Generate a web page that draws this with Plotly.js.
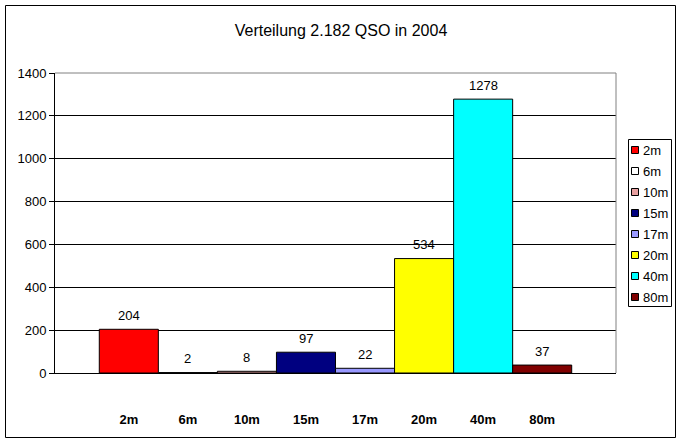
<!DOCTYPE html>
<html>
<head>
<meta charset="utf-8">
<script src="https://cdn.plot.ly/plotly-3.0.1.min.js"></script>
<style>
  html, body { margin: 0; padding: 0; background: #ffffff; }
  #chart { width: 682px; height: 444px; }
</style>
</head>
<body>
<div id="chart"></div>
<script>
// ---- data ----
var bands  = ["2m", "6m", "10m", "15m", "17m", "20m", "40m", "80m"];
var qsos   = [204, 2, 8, 97, 22, 534, 1278, 37];
var colors = ["#FF0000", "#FFFFFF", "#E8A0A0", "#000080", "#9999FF", "#FFFF00", "#00FFFF", "#800000"];
var titleText = "Verteilung 2.182 QSO in 2004";

// ---- layout helpers (pixel -> paper) ----
var W = 682, H = 444;
var M = { l: 55, r: 66, t: 73, b: 71 };
var PW = W - M.l - M.r, PH = H - M.t - M.b;
function px(x) { return (x - M.l) / PW; }
function py(y) { return (H - M.b - y) / PH; }
var FONT = "Liberation Sans, Arial, sans-serif";

var trace = {
  type: "bar",
  x: bands,
  y: qsos,
  marker: { color: colors, line: { color: "#000000", width: 1 } },
  hoverinfo: "x+y",
  showlegend: false
};

var annotations = [];
var shapes = [];

// value labels above each bar
for (var i = 0; i < bands.length; i++) {
  annotations.push({
    x: bands[i], y: qsos[i], xref: "x", yref: "y",
    text: String(qsos[i]), showarrow: false,
    yshift: 14, yanchor: "middle", xanchor: "center",
    font: { family: FONT, size: 13, color: "#000000" }
  });
}

// plot-area border (grey top & right)
shapes.push({ type: "line", xref: "paper", yref: "paper", x0: 0, x1: 1, y0: 1, y1: 1,
  line: { color: "#808080", width: 1 }, layer: "above" });
shapes.push({ type: "line", xref: "paper", yref: "paper", x0: 1, x1: 1, y0: 0, y1: 1,
  line: { color: "#808080", width: 1 }, layer: "above" });

// outer chart border
shapes.push({ type: "rect", xref: "paper", yref: "paper",
  x0: px(5.5), x1: px(675.5), y0: py(437.5), y1: py(5.5),
  line: { color: "#000000", width: 1 }, layer: "above" });

// legend (box, swatches, labels)
var legL = 628, legR = 671, legT = 139, legB = 306, legStep = 21, legY0 = 150;
shapes.push({ type: "rect", xref: "paper", yref: "paper",
  x0: px(legL + 0.5), x1: px(legR + 0.5), y0: py(legB + 0.5), y1: py(legT + 0.5),
  line: { color: "#000000", width: 1 }, fillcolor: "#FFFFFF", layer: "above" });
for (var j = 0; j < bands.length; j++) {
  var cy = legY0 + legStep * j;
  shapes.push({ type: "rect", xref: "paper", yref: "paper",
    x0: px(631.5), x1: px(638.5), y0: py(cy + 3.5), y1: py(cy - 3.5),
    line: { color: "#000000", width: 1 }, fillcolor: colors[j], layer: "above" });
  annotations.push({
    x: px(640.5), y: py(cy), xref: "paper", yref: "paper",
    text: bands[j], showarrow: false, xanchor: "left", yanchor: "middle",
    font: { family: FONT, size: 13, color: "#000000" }
  });
}

var layout = {
  width: W, height: H,
  margin: M,
  paper_bgcolor: "#FFFFFF",
  plot_bgcolor: "#FFFFFF",
  font: { family: FONT, size: 13, color: "#000000" },
  title: {
    text: titleText,
    font: { family: FONT, size: 16, color: "#000000" },
    x: 0.5, xref: "container", xanchor: "center",
    y: 1 - 30 / H, yref: "container", yanchor: "middle"
  },
  bargap: 0,
  showlegend: false,
  xaxis: {
    type: "category",
    range: [-1.25, bands.length + 0.25],
    showgrid: false,
    zeroline: false,
    showline: true, linecolor: "#000000", linewidth: 1,
    ticks: "",
    ticklabelstandoff: 34,
    tickfont: { family: FONT, size: 13, color: "#000000", weight: "bold" },
    fixedrange: true
  },
  yaxis: {
    range: [0, 1400],
    dtick: 200, tick0: 0,
    showgrid: true, gridcolor: "#000000", gridwidth: 1,
    zeroline: false,
    showline: true, linecolor: "#000000", linewidth: 1,
    ticks: "outside", ticklen: 5, tickcolor: "#000000", tickwidth: 1,
    tickfont: { family: FONT, size: 13, color: "#000000" },
    fixedrange: true
  },
  annotations: annotations,
  shapes: shapes
};

Plotly.newPlot("chart", [trace], layout, { displayModeBar: false, staticPlot: true });
</script>
</body>
</html>
